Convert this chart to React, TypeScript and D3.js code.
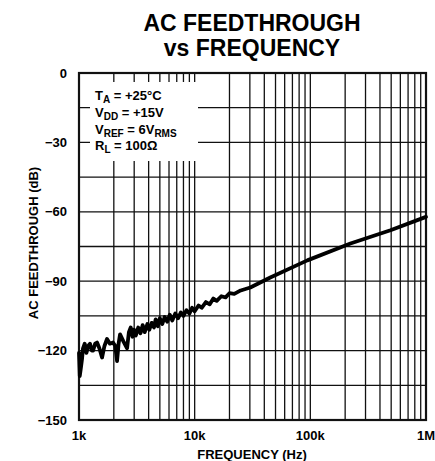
import * as d3 from "d3";

const freqHz = [
  1000, 1015, 1035, 1060, 1083, 1120, 1160, 1200, 1245, 1290, 1322, 1380, 1432, 1500,
  1582, 1660, 1747, 1850, 1968, 2060, 2133, 2200, 2265, 2420, 2604, 2700, 2800, 2900,
  3000, 3100, 3250, 3400, 3550, 3700, 3900, 4050, 4250, 4450, 4600, 4800, 5000, 5250,
  5500, 5800, 6100, 6400, 6800, 7200, 7600, 8000, 8500, 9000, 9500, 10000, 10800, 11500,
  12500, 13500, 14500, 15500, 17000, 18500, 20000, 22000, 25000, 30270, 45080, 94230,
  222000, 493000, 1000000,
];
const feedDb = [
  -121, -131, -128, -124, -119, -117, -121, -118, -117, -120, -120, -117, -116.5, -119,
  -123, -118, -115, -117, -116.5, -118, -124.5, -117, -113, -116, -119, -112, -110, -114,
  -111, -113.5, -110, -112.5, -109, -112, -108.5, -111, -108, -110, -106.5, -109.5, -106, -108.5,
  -105.5, -107.5, -104.5, -107, -104, -106, -103.5, -105, -102.5, -104, -101.5, -103, -100.5, -101.5,
  -99, -100, -97.5, -98.5, -96.5, -97, -95.2, -95.5, -94, -92.7, -88.4, -81,
  -73.7, -68, -62.2,
];

const xTicks = [1e3, 1e4, 1e5, 1e6];
const xTickLabels = ["1k", "10k", "100k", "1M"];
const yTicks = [0, -30, -60, -90, -120, -150];
const yGrid = [0, -15, -30, -45, -60, -75, -90, -105, -120, -135, -150];

const notes = [
  { main: "T", sub: "A", rest: " = +25°C", sub2: "" },
  { main: "V", sub: "DD", rest: " = +15V", sub2: "" },
  { main: "V", sub: "REF", rest: " = 6V", sub2: "RMS" },
  { main: "R", sub: "L", rest: " = 100Ω", sub2: "" },
];

const W = 435;
const H = 461;
const left = 79;
const right = 426;
const top = 73;
const bottom = 420;

const font = "'Liberation Sans', Arial, Helvetica, sans-serif";

export default function App() {
  const x = d3.scaleLog().domain([1e3, 1e6]).range([left, right]);
  const y = d3.scaleLinear().domain([-150, 0]).range([bottom, top]);

  const minor: number[] = [];
  for (let dec = 1e3; dec < 1e6; dec *= 10) {
    for (let k = 2; k <= 9; k++) minor.push(dec * k);
  }

  const line = d3
    .line<number>()
    .x((_, i) => x(freqHz[i]))
    .y((d) => y(d));

  const ink = "#111";

  return (
    <svg
      width={W}
      height={H}
      style={{ position: "absolute", left: 0, top: 0, background: "#fff" }}
      fontFamily={font}
      fontWeight="bold"
    >
      <rect width={W} height={H} fill="#fff" />
      <text x={252} y={31} textAnchor="middle" fontSize={23}>
        AC FEEDTHROUGH
      </text>
      <text x={252} y={56} textAnchor="middle" fontSize={23}>
        vs FREQUENCY
      </text>

      {/* grid */}
      {[...minor, 1e4, 1e5].map((f, i) => (
        <line key={"v" + i} x1={x(f)} x2={x(f)} y1={top} y2={bottom} stroke={ink} strokeWidth={1.3} />
      ))}
      {yGrid.map((v, i) => (
        <line key={"h" + i} x1={left} x2={right} y1={y(v)} y2={y(v)} stroke={ink} strokeWidth={1.3} />
      ))}

      {/* annotation box knocks out grid */}
      <rect x={90} y={82} width={108} height={79} fill="#fff" />
      <g fontSize={13}>
        {notes.map((n, i) => (
          <text key={i} x={95} y={100 + i * 16.8}>
            {n.main}
            <tspan fontSize={10} dy={3}>{n.sub}</tspan>
            <tspan dy={-3}>{n.rest}</tspan>
            {n.sub2 && <tspan fontSize={10} dy={3}>{n.sub2}</tspan>}
          </text>
        ))}
      </g>

      <rect x={left} y={top} width={right - left} height={bottom - top} fill="none" stroke={ink} strokeWidth={2.2} />

      <path
        d={line(feedDb) || ""}
        fill="none"
        stroke="#000"
        strokeWidth={3.8}
        strokeLinejoin="round"
        strokeLinecap="round"
      />

      {xTicks.map((f, i) => (
        <text key={"xt" + i} x={x(f)} y={440} textAnchor="middle" fontSize={13}>
          {xTickLabels[i]}
        </text>
      ))}
      {yTicks.map((v, i) => (
        <text key={"yt" + i} x={67} y={y(v) + 4.5} textAnchor="end" fontSize={13}>
          {v === 0 ? "0" : "−" + Math.abs(v)}
        </text>
      ))}
      <text x={252} y={459} textAnchor="middle" fontSize={13}>
        FREQUENCY (Hz)
      </text>
      <text transform="translate(38,243) rotate(-90)" textAnchor="middle" fontSize={13}>
        AC FEEDTHROUGH (dB)
      </text>
    </svg>
  );
}
